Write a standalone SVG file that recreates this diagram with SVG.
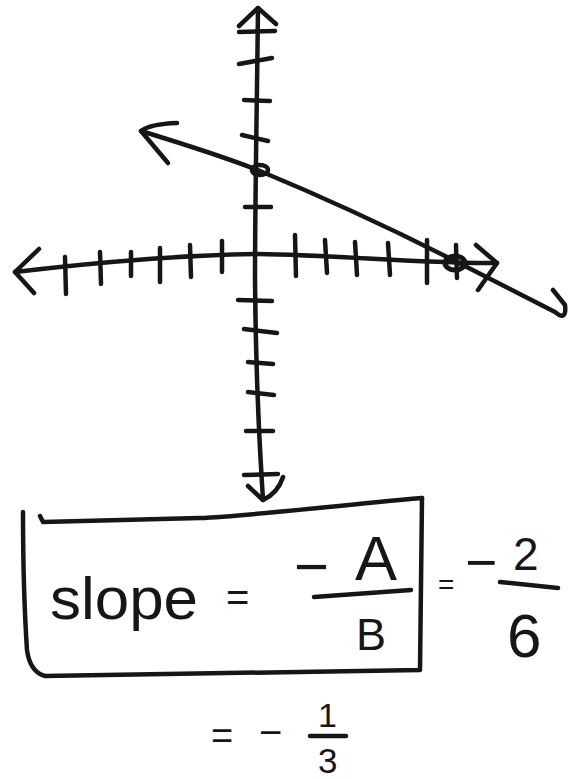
<svg xmlns="http://www.w3.org/2000/svg" width="579" height="779" viewBox="0 0 579 779">
<style>
.s{fill:none;stroke:#161616;stroke-width:4.5;stroke-linecap:round;stroke-linejoin:round}
.t{fill:#161616;font-family:"Liberation Sans",Arial,sans-serif}
</style>
<rect width="579" height="779" fill="#fff"/>
<g id="y-axis">
<path class="s" d="M258,8 C257,100 255,200 255,280 C256,400 260,450 263,500"/>
<path class="s" d="M239,26 L258,8 L276,24"/>
<path class="s" d="M248,486 L263,500 Q278,493 283,477"/>
<path class="s" d="M239,32 L275,31 M239,64 L272,58 M244,100 L270,101 M242,135 L268,141 M245,207 L271,207 M238,300 L272,301 M244,329 L277,333 M248,362 L273,364 M248,392 L274,395 M246,431 L273,431 M244,475 L278,474"/>
</g>
<g id="x-axis">
<path class="s" d="M15,272 C100,262 180,255 258,254 C340,255 420,264 497,263"/>
<path class="s" d="M39,249 L15,272 L34,293"/>
<path class="s" d="M476,245 L497,263 L478,290"/>
<path class="s" d="M65,257 L66,294 M100,252 L101,284 M131,252 L131,276 M160,248 L160,282 M190,245 L191,277 M222,241 L222,272 M295,235 L296,276 M325,240 L327,273 M355,242 L357,275 M388,243 L390,275 M427,240 L427,283 M456,245 L457,278"/>
</g>
<g id="connectors">
<path class="s" d="M141,131 C190,146 225,157 260,171 C330,200 400,233 457,262 L555,312 Q567,322 565,305 L553,290"/>
<path class="s" d="M177,123 Q150,124 141,131 L168,163"/>
</g>
<g id="y-intercept">
<ellipse class="s" cx="260" cy="170" rx="8" ry="5"/>
</g>
<g id="x-intercept">
<ellipse class="s" cx="455" cy="263" rx="10" ry="7" style="stroke-width:5"/>
</g>
<g id="box">
<path class="s" d="M23,512 C23,560 25,620 27,650 Q30,672 45,676 L420,670 L422,498"/>
<path class="s" d="M422,498 C330,506 250,516 200,518 L43,522 L40,516"/>
<text class="t" x="50" y="619" font-size="60" textLength="148" lengthAdjust="spacingAndGlyphs">slope</text>
<text class="t" x="226" y="611" font-size="40">=</text>
<text class="t" x="294" y="587" font-size="60">−</text>
<text class="t" x="355" y="580" font-size="63">A</text>
<path class="s" d="M314,597 L411,590"/>
<text class="t" x="356" y="650" font-size="45">B</text>
</g>
<g id="result">
<text class="t" x="438" y="594" font-size="28">=</text>
<text class="t" x="465" y="581" font-size="55">−</text>
<text class="t" x="513" y="570" font-size="46">2</text>
<path class="s" d="M500,582 L558,588"/>
<text class="t" x="507" y="657" font-size="62">6</text>
<text class="t" x="211" y="749" font-size="38">=</text>
<text class="t" x="259" y="746" font-size="40">−</text>
<text class="t" x="318" y="727" font-size="34">1</text>
<path class="s" d="M310,736 L346,736"/>
<text class="t" x="318" y="773" font-size="35">3</text>
</g>
</svg>
